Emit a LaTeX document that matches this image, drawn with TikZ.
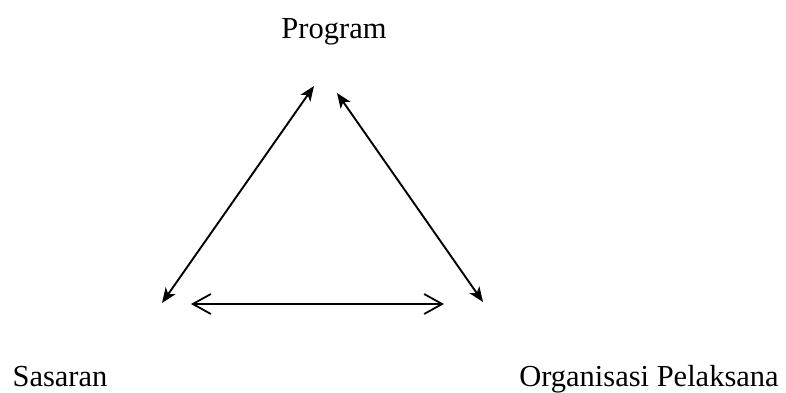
\documentclass[tikz,border=0pt]{standalone}
\usepackage{fontspec}
\setmainfont{Liberation Serif}
\usetikzlibrary{arrows.meta}

\begin{document}
\begin{tikzpicture}[x=1pt, y=-1pt,
  every node/.style = {inner sep=0pt, anchor=base,
    font=\fontsize{30.5}{36}\selectfont},
  link/.style = {line width=1.9pt,
    {Stealth[length=15pt,width=12pt,inset=4pt]}-{Stealth[length=15pt,width=12pt,inset=4pt]}},
  flat/.style = {line width=1.8pt,
    {Straight Barb[length=18pt,width=20pt,line width=1.8pt]}-{Straight Barb[length=18pt,width=20pt,line width=1.8pt]}}]
  \useasboundingbox (0,0) rectangle (786,392);
  \node (program) at (334,38) {Program};
  \node (sasaran) at (60,386) {Sasaran};
  \node (organisasi) at (649,386) {Organisasi Pelaksana};
  % arrow ends
  \coordinate (pl) at (314,86);
  \coordinate (pr) at (337,93);
  \coordinate (sl) at (162,303);
  \coordinate (sr) at (191,304);
  \coordinate (ol) at (444,304);
  \coordinate (or) at (483,302);
  \draw[link] (sl) -- (pl);
  \draw[link] (pr) -- (or);
  \draw[flat] (sr) -- (ol);
\end{tikzpicture}
\end{document}
